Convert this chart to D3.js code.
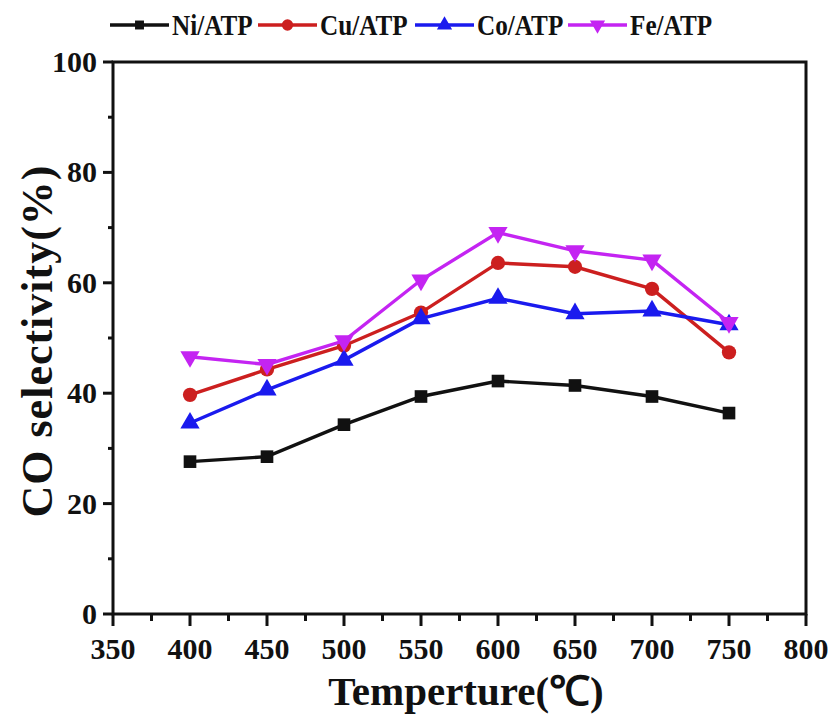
<!DOCTYPE html>
<html><head><meta charset="utf-8">
<script src="https://cdn.jsdelivr.net/npm/d3@7"></script>
<style>body{margin:0;background:#fff}text{font-family:"Liberation Serif","Times New Roman",serif;font-weight:bold;fill:#111}</style>
</head><body><svg id="c" width="833" height="720"></svg>
<script>
const temps = [400, 450, 500, 550, 600, 650, 700, 750];
const ni = [27.6, 28.5, 34.3, 39.4, 42.2, 41.4, 39.4, 36.4];
const cu = [39.7, 44.3, 48.6, 54.6, 63.6, 62.9, 58.9, 47.4];
const co = [34.6, 40.6, 46.0, 53.5, 57.2, 54.4, 54.9, 52.4];
const fe = [46.6, 45.2, 49.5, 60.5, 69.1, 65.8, 64.1, 52.8];
const seriesNames = ["Ni/ATP", "Cu/ATP", "Co/ATP", "Fe/ATP"];
const xTicks = [350, 400, 450, 500, 550, 600, 650, 700, 750, 800];
const yTicks = [0, 20, 40, 60, 80, 100];
const xTitle = "Temperture(℃)";
const yTitle = "CO selectivity(%)";

const colors = ["#111111", "#cc1f1f", "#1a1aee", "#c424f2"];
const symbols = [d3.symbolSquare, d3.symbolCircle, d3.symbolTriangle, d3.symbolTriangle];
const rot = [0, 0, 0, 180];
const data = [ni, cu, co, fe];

const svg = d3.select("#c");
const L = 113, R = 806, T = 62, B = 614;
const x = d3.scaleLinear().domain([350, 800]).range([L, R]);
const y = d3.scaleLinear().domain([0, 100]).range([B, T]);

// frame
svg.append("rect").attr("x", L).attr("y", T).attr("width", R - L).attr("height", B - T)
  .attr("fill", "none").attr("stroke", "#111").attr("stroke-width", 3);

// x axis
const xMinor = d3.range(375, 800, 50);
const gx = svg.append("g").attr("transform", `translate(0,${B})`);
gx.selectAll("line.mj").data(xTicks).join("line").attr("x1", d => x(d)).attr("x2", d => x(d))
  .attr("y1", 0).attr("y2", 12).attr("stroke", "#111").attr("stroke-width", 3);
gx.selectAll("line.mn").data(xMinor).join("line").attr("x1", d => x(d)).attr("x2", d => x(d))
  .attr("y1", 0).attr("y2", 7).attr("stroke", "#111").attr("stroke-width", 3);
gx.selectAll("text").data(xTicks).join("text").attr("x", d => x(d)).attr("y", 45)
  .attr("text-anchor", "middle").attr("font-size", 30).text(d => d);

// y axis
const yMinor = d3.range(10, 100, 20);
const gy = svg.append("g");
gy.selectAll("line.mj").data(yTicks).join("line").attr("x1", L - 10).attr("x2", L)
  .attr("y1", d => y(d)).attr("y2", d => y(d)).attr("stroke", "#111").attr("stroke-width", 3);
gy.selectAll("line.mn").data(yMinor).join("line").attr("x1", L - 5).attr("x2", L)
  .attr("y1", d => y(d)).attr("y2", d => y(d)).attr("stroke", "#111").attr("stroke-width", 3);
gy.selectAll("text").data(yTicks).join("text").attr("x", L - 16).attr("y", d => y(d) + 10)
  .attr("text-anchor", "end").attr("font-size", 30).text(d => d);

// titles
svg.append("text").attr("x", 466).attr("y", 705).attr("text-anchor", "middle")
  .attr("font-size", 41).text(xTitle);
svg.append("text").attr("transform", `translate(52,341) rotate(-90)`).attr("text-anchor", "middle")
  .attr("font-size", 44).attr("letter-spacing", 1).text(yTitle);

// series
const line = d3.line().x((d, i) => x(temps[i])).y(d => y(d));
data.forEach((vals, k) => {
  svg.append("path").datum(vals).attr("d", line).attr("fill", "none")
    .attr("stroke", colors[k]).attr("stroke-width", 3.4);
  svg.selectAll(null).data(vals).join("path")
    .attr("transform", (d, i) => `translate(${x(temps[i])},${y(d)}) rotate(${rot[k]})`)
    .attr("d", d3.symbol().type(symbols[k]).size(k === 0 ? 160 : 160))
    .attr("fill", colors[k]);
});

// legend
const legX = [110, 258, 415, 568];
const legLen = 59;
const legY = 25;
seriesNames.forEach((name, k) => {
  const g = svg.append("g");
  g.append("line").attr("x1", legX[k]).attr("x2", legX[k] + legLen).attr("y1", legY).attr("y2", legY)
    .attr("stroke", colors[k]).attr("stroke-width", 3.6);
  g.append("path").attr("transform", `translate(${legX[k] + legLen / 2},${legY}) rotate(${rot[k]})`)
    .attr("d", d3.symbol().type(symbols[k]).size(k === 0 ? 80 : 100)).attr("fill", colors[k]);
  g.append("g").attr("transform", `translate(${legX[k] + legLen + 3},${legY + 10})`)
    .append("text").attr("transform", `scale(0.84,1)`).attr("font-size", 30).text(name);
});
</script></body></html>
